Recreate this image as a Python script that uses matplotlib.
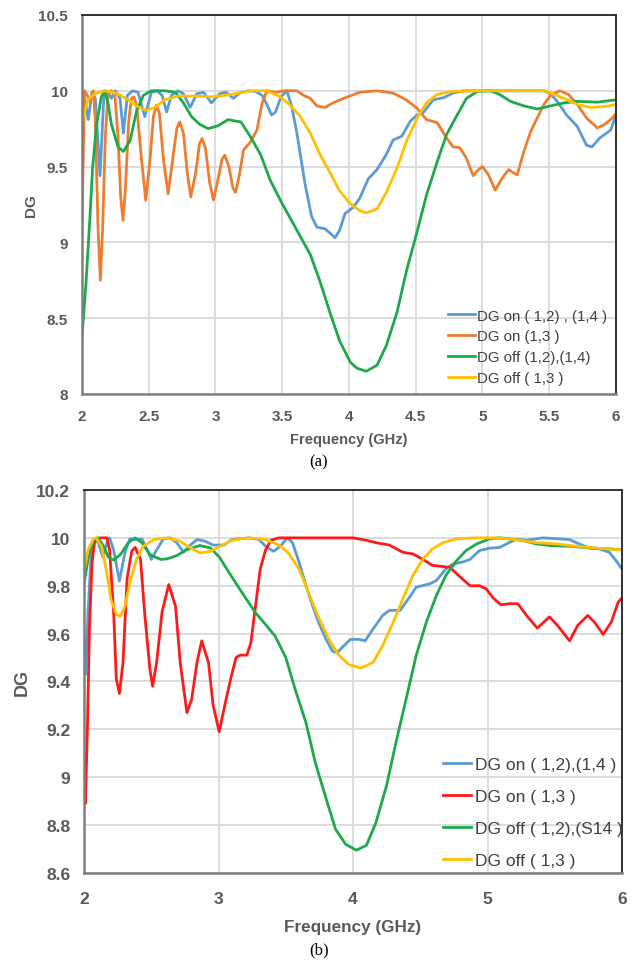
import matplotlib
matplotlib.use("Agg")
import matplotlib.pyplot as plt

plt.rcParams['font.family'] = ['Liberation Sans', 'DejaVu Sans']

# ---------- (a) ----------
a_blue_f = [2.0, 2.02, 2.047, 2.075, 2.10, 2.135, 2.165, 2.19, 2.22, 2.25, 2.285, 2.31, 2.34, 2.38,
            2.42, 2.47, 2.52, 2.56, 2.60, 2.634, 2.67, 2.72, 2.76, 2.81, 2.86, 2.91, 2.97, 3.03,
            3.08, 3.133, 3.19, 3.25, 3.30, 3.35, 3.39, 3.42, 3.45, 3.49, 3.535, 3.57, 3.61, 3.67,
            3.72, 3.76, 3.82, 3.86, 3.895, 3.93, 3.97, 4.03, 4.08, 4.145, 4.21, 4.28, 4.33, 4.395,
            4.46, 4.51, 4.56, 4.63, 4.71, 4.78, 4.86, 5.0, 5.2, 5.46, 5.51, 5.56, 5.63, 5.71,
            5.78, 5.82, 5.88, 5.96, 6.0]
a_blue_v = [9.80, 9.95, 9.81, 9.99, 9.95, 9.44, 9.98, 10.0, 9.95, 10.0, 9.95, 9.72, 9.97, 10.0,
            9.99, 9.83, 9.99, 10.0, 9.97, 9.86, 9.97, 10.0, 9.98, 9.89, 9.98, 9.99, 9.92, 9.98,
            9.99, 9.95, 9.99, 10.0, 9.995, 9.97, 9.90, 9.84, 9.86, 9.96, 10.0, 9.90, 9.72, 9.39,
            9.17, 9.10, 9.09, 9.06, 9.03, 9.08, 9.19, 9.23, 9.29, 9.42, 9.48, 9.58, 9.675, 9.70,
            9.80, 9.84, 9.86, 9.94, 9.955, 9.985, 10.0, 10.0, 10.0, 10.0, 9.98, 9.93, 9.84, 9.765,
            9.64, 9.63, 9.69, 9.74, 9.84]

a_orange_f = [2.0, 2.01, 2.02, 2.04, 2.06, 2.085, 2.10, 2.12, 2.1375, 2.155, 2.175, 2.195, 2.22,
              2.245, 2.27, 2.29, 2.3075, 2.325, 2.35, 2.37, 2.39, 2.41, 2.44, 2.4775, 2.51, 2.535,
              2.5575, 2.58, 2.61, 2.645, 2.68, 2.71, 2.7325, 2.76, 2.79, 2.815, 2.85, 2.88, 2.9,
              2.925, 2.955, 2.985, 3.02, 3.05, 3.07, 3.10, 3.13, 3.15, 3.18, 3.21, 3.26, 3.31,
              3.35, 3.385, 3.45, 3.52, 3.61, 3.66, 3.71, 3.76, 3.82, 3.88, 3.96, 4.08, 4.21,
              4.33, 4.43, 4.51, 4.58, 4.66, 4.73, 4.78, 4.83, 4.88, 4.93, 4.97, 5.0, 5.045,
              5.095, 5.145, 5.195, 5.23, 5.26, 5.31, 5.36, 5.41, 5.46, 5.51, 5.58, 5.645, 5.71,
              5.78, 5.86, 5.91, 5.96, 6.0]
a_orange_v = [9.12, 9.6, 10.0, 9.97, 9.93, 10.0, 9.8, 9.1, 8.75, 9.1, 9.7, 9.98, 10.0,
              9.98, 9.7, 9.3, 9.145, 9.35, 9.8, 9.95, 9.96, 9.9, 9.6, 9.278, 9.55, 9.83,
              9.905, 9.85, 9.55, 9.32, 9.55, 9.75, 9.795, 9.72, 9.45, 9.30, 9.45, 9.65, 9.685,
              9.62, 9.40, 9.28, 9.42, 9.55, 9.575, 9.50, 9.36, 9.33, 9.45, 9.61, 9.66, 9.74,
              9.92, 10.0, 9.99, 10.0, 10.0, 9.97, 9.95, 9.90, 9.89, 9.92, 9.95, 9.99, 10.0,
              9.985, 9.94, 9.885, 9.81, 9.79, 9.69, 9.63, 9.625, 9.555, 9.44, 9.48, 9.50, 9.445,
              9.345, 9.42, 9.48, 9.46, 9.445, 9.6, 9.73, 9.82, 9.91, 9.97, 10.0, 9.975, 9.91,
              9.82, 9.755, 9.775, 9.81, 9.85]

a_green_f = [2.0, 2.03, 2.06, 2.08, 2.11, 2.145, 2.17, 2.195, 2.22, 2.27, 2.31, 2.36, 2.41, 2.46,
             2.52, 2.62, 2.70, 2.76, 2.82, 2.88, 2.945, 3.02, 3.095, 3.15, 3.19, 3.26, 3.34,
             3.41, 3.50, 3.585, 3.66, 3.71, 3.78, 3.86, 3.93, 4.01, 4.06, 4.13, 4.21, 4.28,
             4.36, 4.43, 4.51, 4.58, 4.66, 4.73, 4.81, 4.88, 4.96, 5.06, 5.13, 5.21, 5.31,
             5.41, 5.51, 5.61, 5.71, 5.86, 6.0]
a_green_v = [8.375, 8.73, 9.17, 9.50, 9.78, 9.96, 10.0, 9.92, 9.78, 9.63, 9.60, 9.67, 9.87, 9.97,
             10.0, 10.0, 9.99, 9.92, 9.83, 9.78, 9.75, 9.77, 9.81, 9.80, 9.795, 9.70, 9.575,
             9.41, 9.255, 9.12, 9.0, 8.92, 8.75, 8.53, 8.35, 8.21, 8.17, 8.15, 8.19, 8.32,
             8.54, 8.81, 9.07, 9.31, 9.53, 9.71, 9.84, 9.95, 9.995, 10.0, 9.975, 9.93, 9.90,
             9.88, 9.90, 9.92, 9.93, 9.925, 9.94]

a_yellow_f = [2.0, 2.045, 2.095, 2.17, 2.27, 2.345, 2.42, 2.48, 2.545, 2.62, 2.72, 2.845, 2.97,
              3.07, 3.15, 3.26, 3.385, 3.485, 3.56, 3.635, 3.71, 3.78, 3.86, 3.93, 4.01, 4.08,
              4.13, 4.21, 4.28, 4.36, 4.43, 4.51, 4.58, 4.66, 4.76, 5.0, 5.46, 5.51, 5.61,
              5.71, 5.81, 5.91, 6.0]
a_yellow_v = [9.80, 9.94, 9.98, 10.0, 9.98, 9.94, 9.895, 9.87, 9.89, 9.94, 9.965, 9.965, 9.96,
              9.97, 9.98, 10.0, 10.0, 9.96, 9.905, 9.83, 9.72, 9.585, 9.455, 9.34, 9.255, 9.21,
              9.195, 9.22, 9.33, 9.49, 9.665, 9.82, 9.92, 9.975, 9.995, 10.0, 10.0, 9.985, 9.95,
              9.91, 9.89, 9.895, 9.91]

# ---------- (b) ----------
b_blue_f = [2.0, 2.012, 2.03, 2.05, 2.075, 2.105, 2.14, 2.17, 2.19, 2.22, 2.263, 2.305, 2.34,
            2.39, 2.43, 2.47, 2.50, 2.54, 2.59, 2.64, 2.69, 2.74, 2.79, 2.84, 2.90, 2.96, 3.04,
            3.10, 3.23, 3.30, 3.36, 3.41, 3.46, 3.51, 3.55, 3.60, 3.65, 3.70, 3.745, 3.80,
            3.846, 3.88, 3.93, 3.98, 4.045, 4.09, 4.15, 4.22, 4.27, 4.35, 4.42, 4.47, 4.57,
            4.62, 4.69, 4.74, 4.82, 4.87, 4.94, 5.015, 5.09, 5.16, 5.21, 5.29, 5.41, 5.535,
            5.61, 5.68, 5.76, 5.83, 5.905, 5.955, 6.0]
b_blue_v = [9.576, 9.43, 9.69, 9.90, 9.993, 9.98, 9.92, 9.98, 10.0, 9.95, 9.82, 9.94, 9.996,
            9.993, 9.996, 9.95, 9.91, 9.95, 9.996, 10.0, 9.98, 9.94, 9.97, 9.993, 9.986, 9.97, 9.97,
            9.993, 10.0, 9.993, 9.96, 9.944, 9.965, 10.0, 9.98, 9.896, 9.80, 9.715, 9.645, 9.576,
            9.527, 9.52, 9.548, 9.576, 9.576, 9.57, 9.62, 9.676, 9.697, 9.697, 9.752, 9.794, 9.808,
            9.822, 9.87, 9.89, 9.90, 9.91, 9.947, 9.957, 9.96, 9.98, 9.993, 9.99, 10.0, 9.996,
            9.993, 9.975, 9.957, 9.954, 9.94, 9.905, 9.87]

b_red_f = [2.0, 2.01, 2.025, 2.04, 2.06, 2.08, 2.12, 2.17, 2.19, 2.22, 2.24, 2.263, 2.29, 2.32,
           2.355, 2.38, 2.42, 2.45, 2.49, 2.51, 2.54, 2.58, 2.63, 2.68, 2.715, 2.765, 2.80,
           2.84, 2.875, 2.925, 2.96, 3.005, 3.05, 3.09, 3.13, 3.16, 3.21, 3.24, 3.275, 3.31,
           3.35, 3.39, 3.45, 3.85, 4.0, 4.10, 4.17, 4.27, 4.37, 4.445, 4.52, 4.59, 4.67, 4.72,
           4.79, 4.87, 4.94, 4.99, 5.04, 5.10, 5.16, 5.225, 5.29, 5.37, 5.46, 5.52, 5.61, 5.67,
           5.745, 5.795, 5.86, 5.92, 5.97, 6.0]
b_red_v = [9.10, 8.89, 9.20, 9.62, 9.90, 9.99, 10.0, 10.0, 9.95, 9.69, 9.41, 9.35, 9.48, 9.83,
           9.945, 9.96, 9.91, 9.69, 9.45, 9.38, 9.48, 9.69, 9.805, 9.715, 9.48, 9.27, 9.325,
           9.48, 9.57, 9.48, 9.30, 9.19, 9.31, 9.41, 9.50, 9.51, 9.51, 9.56, 9.715, 9.87,
           9.95, 9.99, 10.0, 10.0, 10.0, 9.99, 9.98, 9.97, 9.94, 9.933, 9.91, 9.885, 9.88, 9.877,
           9.84, 9.80, 9.80, 9.787, 9.75, 9.72, 9.725, 9.725, 9.676, 9.623, 9.67, 9.634, 9.57, 9.634,
           9.676, 9.648, 9.597, 9.648, 9.73, 9.75]

b_green_f = [2.0, 2.03, 2.07, 2.105, 2.145, 2.18, 2.22, 2.27, 2.33, 2.38, 2.43, 2.49, 2.57, 2.615,
             2.69, 2.76, 2.86, 2.94, 3.01, 3.05, 3.13, 3.20, 3.275, 3.35, 3.42, 3.50, 3.57,
             3.65, 3.72, 3.80, 3.87, 3.945, 4.025, 4.10, 4.17, 4.25, 4.32, 4.40, 4.47, 4.545,
             4.62, 4.69, 4.77, 4.84, 4.92, 5.015, 5.09, 5.16, 5.26, 5.36, 5.46, 5.61, 5.76,
             5.905, 6.0]
b_green_v = [9.81, 9.91, 9.993, 10.0, 9.965, 9.92, 9.907, 9.93, 9.98, 10.0, 9.98, 9.93, 9.91, 9.912,
             9.926, 9.95, 9.968, 9.958, 9.917, 9.88, 9.81, 9.75, 9.687, 9.638, 9.59, 9.50, 9.367,
             9.228, 9.06, 8.91, 8.783, 8.72, 8.695, 8.716, 8.81, 8.967, 9.147, 9.34, 9.51, 9.648,
             9.76, 9.843, 9.905, 9.947, 9.975, 9.996, 10.0, 9.996, 9.99, 9.975, 9.968, 9.965, 9.958,
             9.954, 9.95]

b_yellow_f = [2.0, 2.03, 2.07, 2.09, 2.13, 2.17, 2.20, 2.24, 2.27, 2.305, 2.34, 2.39, 2.44, 2.52,
              2.615, 2.715, 2.79, 2.865, 2.94, 3.01, 3.10, 3.23, 3.35, 3.45, 3.52, 3.60, 3.67,
              3.745, 3.82, 3.89, 3.97, 4.06, 4.15, 4.22, 4.30, 4.37, 4.445, 4.52, 4.59, 4.67,
              4.77, 4.92, 5.06, 5.21, 5.36, 5.51, 5.66, 5.81, 6.0]
b_yellow_v = [9.86, 9.95, 9.996, 10.0, 9.965, 9.854, 9.743, 9.68, 9.673, 9.715, 9.81, 9.91, 9.965, 9.993,
              10.0, 9.986, 9.958, 9.937, 9.944, 9.965, 9.99, 10.0, 9.993, 9.97, 9.937, 9.868, 9.77,
              9.666, 9.576, 9.513, 9.47, 9.456, 9.48, 9.55, 9.648, 9.745, 9.843, 9.912, 9.954, 9.98,
              9.996, 10.0, 10.0, 9.993, 9.98, 9.975, 9.965, 9.957, 9.95]

a_labels = ['DG on ( 1,2) , (1,4 )', 'DG on (1,3 )', 'DG off (1,2),(1,4)', 'DG off ( 1,3 )']
b_labels = ['DG on ( 1,2),(1,4 )', 'DG on ( 1,3 )', 'DG off ( 1,2),(S14 )', 'DG off ( 1,3 )']

BLUE = '#5B9BD5'
ORANGE = '#ED7D31'
GREEN = '#1DAA4A'
YELLOW = '#FFC000'
RED = '#FF1A1A'
TICK = '#595959'


def style_axes(ax, fs, xpad, ypad):
    ax.grid(True, color='#d9d9d9', linewidth=1.3)
    ax.set_axisbelow(True)
    for s in ['top', 'right']:
        ax.spines[s].set_color('#222222')
        ax.spines[s].set_linewidth(1.3)
    for s in ['left', 'bottom']:
        ax.spines[s].set_color('#7f7f7f')
        ax.spines[s].set_linewidth(1.8)
    ax.tick_params(length=0, labelsize=fs, labelcolor=TICK)
    ax.tick_params(axis='x', pad=xpad)
    ax.tick_params(axis='y', pad=ypad)
    for lab in ax.get_xticklabels() + ax.get_yticklabels():
        lab.set_fontweight('bold')


fig = plt.figure(figsize=(6.38, 9.62), dpi=100)
lw = 2.0

ax1 = fig.add_axes([0.1285, 0.5894, 0.8370, 0.3940])
ax1.plot(a_blue_f, a_blue_v, color=BLUE, lw=lw, label=a_labels[0])
ax1.plot(a_orange_f, a_orange_v, color=ORANGE, lw=lw, label=a_labels[1])
ax1.plot(a_green_f, a_green_v, color=GREEN, lw=lw, label=a_labels[2])
ax1.plot(a_yellow_f, a_yellow_v, color=YELLOW, lw=lw, label=a_labels[3])
ax1.set_xlim(2, 6)
ax1.set_ylim(8, 10.5)
ax1.set_xticks([2, 2.5, 3, 3.5, 4, 4.5, 5, 5.5, 6])
ax1.set_xticklabels(['2', '2.5', '3', '3.5', '4', '4.5', '5', '5.5', '6'])
ax1.set_yticks([8, 8.5, 9, 9.5, 10, 10.5])
ax1.set_yticklabels(['8', '8.5', '9', '9.5', '10', '10.5'])
style_axes(ax1, 11, 11, 10)
ax1.set_xlabel('Frequency (GHz)', fontsize=10.5, fontweight='bold', color=TICK, labelpad=6)
ax1.set_ylabel('DG', fontsize=11, fontweight='bold', color=TICK, labelpad=0)
leg1 = ax1.legend(loc='lower right', bbox_to_anchor=(1.0, 0.0), frameon=False, fontsize=10.8,
                  handlelength=1.8, handletextpad=0.15, labelspacing=0.45, borderaxespad=0.2)
for t in leg1.get_texts():
    t.set_color('#404040')

fig.text(0.5, 0.519, '(a)', ha='center', va='center', fontsize=12, family='Liberation Serif')

ax2 = fig.add_axes([0.1317, 0.0915, 0.8433, 0.3981])
ax2.plot(b_blue_f, b_blue_v, color=BLUE, lw=lw, label=b_labels[0])
ax2.plot(b_red_f, b_red_v, color=RED, lw=lw, label=b_labels[1])
ax2.plot(b_green_f, b_green_v, color=GREEN, lw=lw, label=b_labels[2])
ax2.plot(b_yellow_f, b_yellow_v, color=YELLOW, lw=lw, label=b_labels[3])
ax2.set_xlim(2, 6)
ax2.set_ylim(8.6, 10.2)
ax2.set_xticks([2, 3, 4, 5, 6])
ax2.set_yticks([8.6, 8.8, 9.0, 9.2, 9.4, 9.6, 9.8, 10.0, 10.2])
ax2.set_yticklabels(['8.6', '8.8', '9', '9.2', '9.4', '9.6', '9.8', '10', '10.2'])
style_axes(ax2, 12.5, 13, 10)
ax2.set_xlabel('Frequency (GHz)', fontsize=12.3, fontweight='bold', color=TICK, labelpad=9)
ax2.set_ylabel('DG', fontsize=13, fontweight='bold', color=TICK, labelpad=4)
leg2 = ax2.legend(loc='lower right', bbox_to_anchor=(1.02, -0.015), frameon=False, fontsize=12.5,
                  handlelength=1.6, handletextpad=0.2, labelspacing=0.98, borderaxespad=0.2)
for t in leg2.get_texts():
    t.set_color('#404040')

fig.text(0.5, 0.012, '(b)', ha='center', va='center', fontsize=12, family='Liberation Serif')

fig.savefig('out.png', dpi=100)
